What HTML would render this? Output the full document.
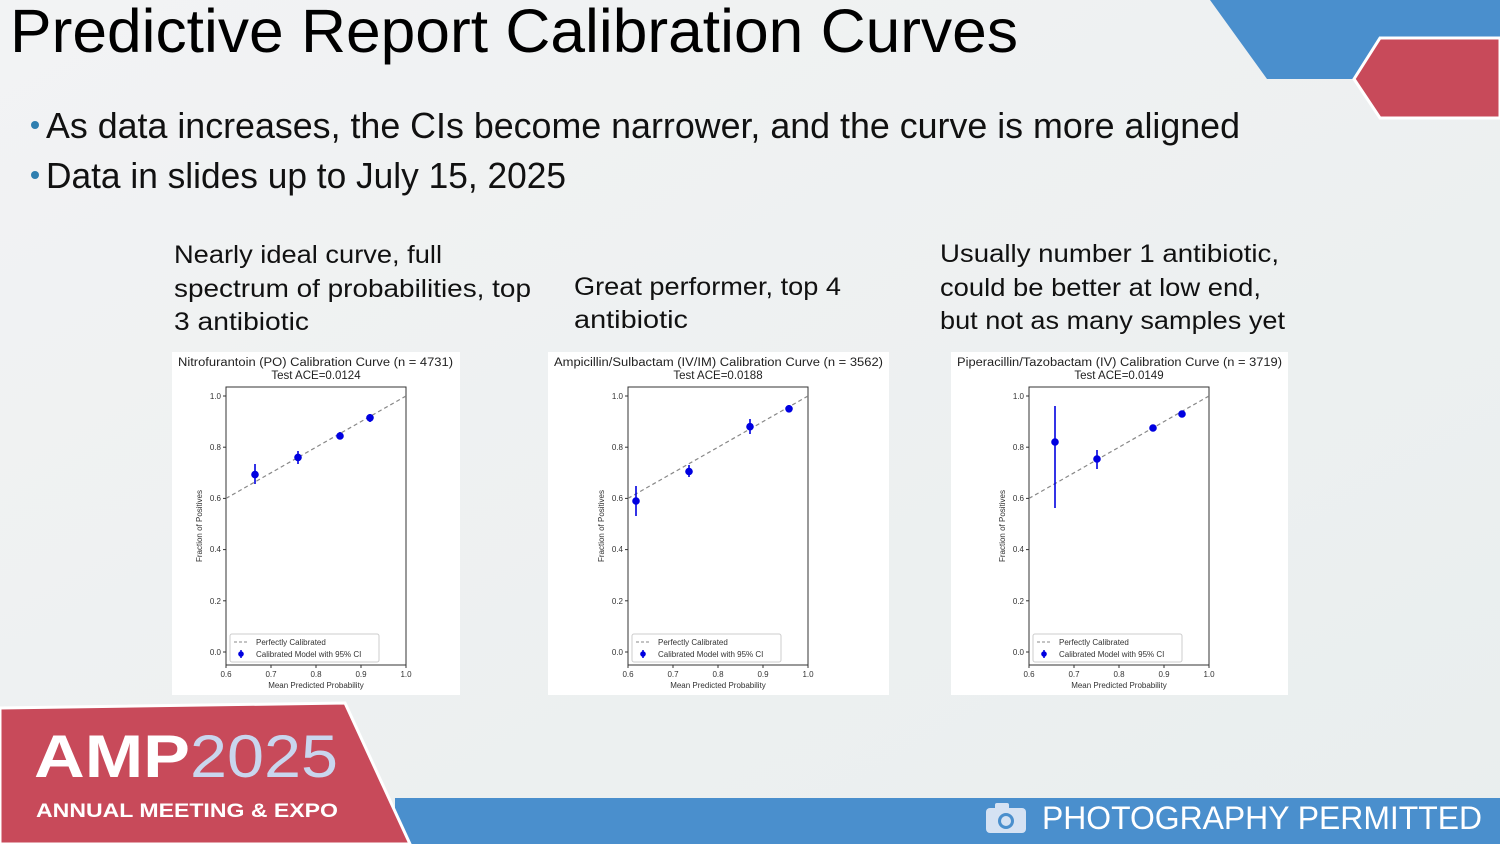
<!DOCTYPE html>
<html><head><meta charset="utf-8"><style>
html,body{margin:0;padding:0;width:1500px;height:844px;overflow:hidden;background:#eef1f2}
svg{display:block}
</style></head><body>
<svg width="1500" height="844" viewBox="0 0 1500 844" xmlns="http://www.w3.org/2000/svg" font-family="Liberation Sans, sans-serif">
<defs>
<linearGradient id="bg" x1="0" y1="0" x2="1" y2="1">
<stop offset="0" stop-color="#f2f3f4"/><stop offset="1" stop-color="#e9eeee"/>
</linearGradient>
<g id="axes">
  <rect x="0" y="387" width="180" height="278" fill="#fff" stroke="#333" stroke-width="1"/>
  <g stroke="#333" stroke-width="1">
    <line x1="-3" y1="396" x2="0" y2="396"/><line x1="-3" y1="447.2" x2="0" y2="447.2"/>
    <line x1="-3" y1="498.4" x2="0" y2="498.4"/><line x1="-3" y1="549.6" x2="0" y2="549.6"/>
    <line x1="-3" y1="600.8" x2="0" y2="600.8"/><line x1="-3" y1="652" x2="0" y2="652"/>
    <line x1="0" y1="665" x2="0" y2="668"/><line x1="45" y1="665" x2="45" y2="668"/>
    <line x1="90" y1="665" x2="90" y2="668"/><line x1="135" y1="665" x2="135" y2="668"/>
    <line x1="180" y1="665" x2="180" y2="668"/>
  </g>
  <g font-size="8" fill="#333" text-anchor="end">
    <text x="-5" y="399">1.0</text><text x="-5" y="450">0.8</text><text x="-5" y="501">0.6</text>
    <text x="-5" y="552">0.4</text><text x="-5" y="604">0.2</text><text x="-5" y="655">0.0</text>
  </g>
  <g font-size="8" fill="#333" text-anchor="middle">
    <text x="0" y="677">0.6</text><text x="45" y="677">0.7</text><text x="90" y="677">0.8</text>
    <text x="135" y="677">0.9</text><text x="180" y="677">1.0</text>
    <text x="90" y="688">Mean Predicted Probability</text>
  </g>
  <text transform="translate(-24,526) rotate(-90)" font-size="8" fill="#333" text-anchor="middle">Fraction of Positives</text>
  <line x1="0" y1="498.4" x2="180" y2="396" stroke="#888" stroke-width="1.2" stroke-dasharray="4,3"/>
  <rect x="4" y="634" width="149" height="28" fill="#fff" stroke="#ccc" rx="2"/>
  <line x1="8" y1="642" x2="23" y2="642" stroke="#888" stroke-dasharray="3,2"/>
  <text x="30" y="645" font-size="8" fill="#333">Perfectly Calibrated</text>
  <line x1="15" y1="650" x2="15" y2="658" stroke="#0000e0" stroke-width="1.5"/>
  <circle cx="15" cy="654" r="2.8" fill="#0000e0"/>
  <text x="30" y="657" font-size="8" fill="#333">Calibrated Model with 95% CI</text>
</g>
</defs>
<rect width="1500" height="844" fill="url(#bg)"/>
<polygon points="1210,0 1500,0 1500,38 1380,38 1354,79 1267,79" fill="#4a8fcd"/>
<polygon points="1354,79 1380,38 1500,38 1500,118 1380,118" fill="#c84a5a" stroke="#fff" stroke-width="3"/>
<rect x="395" y="798" width="1105" height="46" fill="#4a8fcd"/>
<polygon points="0,708 345,703 410,844 0,844" fill="#c84a5a" stroke="#fff" stroke-width="3"/>
<text x="34" y="777" font-size="60" font-weight="bold" fill="#fff" textLength="156" lengthAdjust="spacingAndGlyphs">AMP</text>
<text x="190" y="777" font-size="60" fill="#c9d6ee" textLength="148" lengthAdjust="spacingAndGlyphs">2025</text>
<text x="36" y="817" font-size="19" font-weight="bold" fill="#fff" textLength="302" lengthAdjust="spacingAndGlyphs">ANNUAL MEETING &amp; EXPO</text>
<g fill="#d5e2f3">
  <rect x="986" y="808" width="40" height="25" rx="4"/>
  <rect x="995" y="803" width="14" height="7" rx="2"/>
</g>
<circle cx="1006" cy="821" r="8" fill="#4a8fcd"/><circle cx="1006" cy="821" r="5" fill="#d5e2f3"/>
<text x="1042" y="829" font-size="32" fill="#fff" textLength="440" lengthAdjust="spacingAndGlyphs">PHOTOGRAPHY PERMITTED</text>
<text x="10" y="52" font-size="61" fill="#000" textLength="1008" lengthAdjust="spacingAndGlyphs">Predictive Report Calibration Curves</text>
<circle cx="35" cy="125" r="4" fill="#2f7fb0"/>
<text x="46" y="138" font-size="36" fill="#111" textLength="1194" lengthAdjust="spacingAndGlyphs">As data increases, the CIs become narrower, and the curve is more aligned</text>
<circle cx="35" cy="175" r="4" fill="#2f7fb0"/>
<text x="46" y="188" font-size="36" fill="#111" textLength="520" lengthAdjust="spacingAndGlyphs">Data in slides up to July 15, 2025</text>
<g font-size="25" fill="#111">
<text x="174" y="263" textLength="268" lengthAdjust="spacingAndGlyphs">Nearly ideal curve, full</text>
<text x="174" y="297" textLength="357" lengthAdjust="spacingAndGlyphs">spectrum of probabilities, top</text>
<text x="174" y="330" textLength="135" lengthAdjust="spacingAndGlyphs">3 antibiotic</text>
<text x="574" y="295" textLength="267" lengthAdjust="spacingAndGlyphs">Great performer, top 4</text>
<text x="574" y="328" textLength="114" lengthAdjust="spacingAndGlyphs">antibiotic</text>
<text x="940" y="262" textLength="339" lengthAdjust="spacingAndGlyphs">Usually number 1 antibiotic,</text>
<text x="940" y="296" textLength="321" lengthAdjust="spacingAndGlyphs">could be better at low end,</text>
<text x="940" y="329" textLength="345" lengthAdjust="spacingAndGlyphs">but not as many samples yet</text>
</g>
<rect x="172" y="352" width="288" height="343" fill="#fff"/>
<rect x="548" y="352" width="341" height="343" fill="#fff"/>
<rect x="951" y="352" width="337" height="343" fill="#fff"/>

<g transform="translate(226,0)">
  <use href="#axes"/>
  <text x="-48" y="366" font-size="11.5" fill="#222" textLength="275" lengthAdjust="spacingAndGlyphs">Nitrofurantoin (PO) Calibration Curve (n = 4731)</text>
  <text x="90" y="379" font-size="11.5" fill="#222" text-anchor="middle">Test ACE=0.0124</text>
  <g stroke="#0000e0" stroke-width="1.6" fill="#0000e0">
    <line x1="29" y1="464" x2="29" y2="484"/><circle cx="29" cy="474.6" r="3"/>
    <line x1="72" y1="451" x2="72" y2="464"/><circle cx="72" cy="457.4" r="3"/>
    <line x1="114" y1="432" x2="114" y2="439"/><circle cx="114" cy="436" r="3"/>
    <line x1="144" y1="414" x2="144" y2="422"/><circle cx="144" cy="417.8" r="3"/>
  </g>
</g>
<g transform="translate(628,0)">
  <use href="#axes"/>
  <text x="-74" y="366" font-size="11.5" fill="#222" textLength="329" lengthAdjust="spacingAndGlyphs">Ampicillin/Sulbactam (IV/IM) Calibration Curve (n = 3562)</text>
  <text x="90" y="379" font-size="11.5" fill="#222" text-anchor="middle">Test ACE=0.0188</text>
  <g stroke="#0000e0" stroke-width="1.6" fill="#0000e0">
    <line x1="8" y1="486" x2="8" y2="516"/><circle cx="8" cy="501" r="3"/>
    <line x1="61" y1="465" x2="61" y2="477"/><circle cx="61" cy="471.5" r="3"/>
    <line x1="122" y1="419" x2="122" y2="434"/><circle cx="122" cy="426.7" r="3"/>
    <line x1="161" y1="405" x2="161" y2="412"/><circle cx="161" cy="408.8" r="3"/>
  </g>
</g>
<g transform="translate(1029,0)">
  <use href="#axes"/>
  <text x="-72" y="366" font-size="11.5" fill="#222" textLength="325" lengthAdjust="spacingAndGlyphs">Piperacillin/Tazobactam (IV) Calibration Curve (n = 3719)</text>
  <text x="90" y="379" font-size="11.5" fill="#222" text-anchor="middle">Test ACE=0.0149</text>
  <g stroke="#0000e0" stroke-width="1.6" fill="#0000e0">
    <line x1="26" y1="406" x2="26" y2="508"/><circle cx="26" cy="442" r="3"/>
    <line x1="68" y1="450" x2="68" y2="469"/><circle cx="68" cy="459" r="3"/>
    <line x1="124" y1="426" x2="124" y2="430"/><circle cx="124" cy="428" r="3"/>
    <line x1="153" y1="412" x2="153" y2="416"/><circle cx="153" cy="414" r="3"/>
  </g>
</g>
</svg>
</body></html>
